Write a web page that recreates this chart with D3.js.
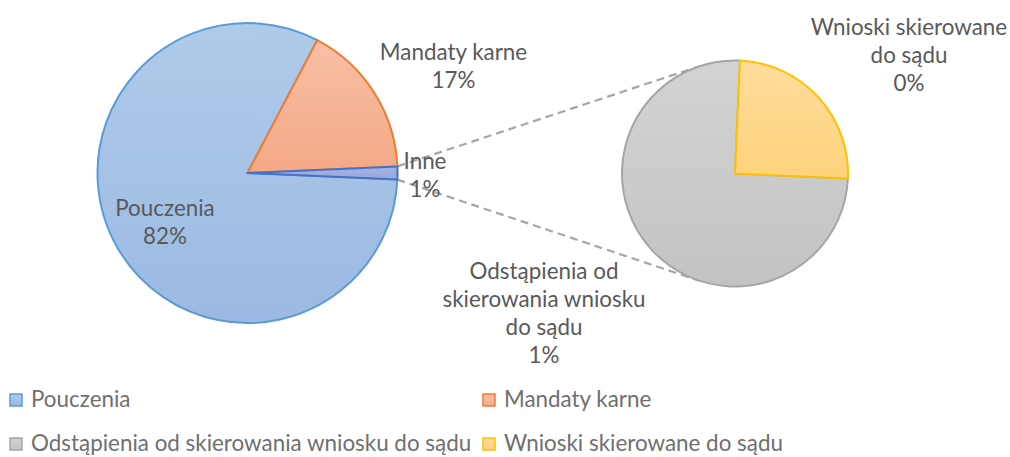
<!DOCTYPE html>
<html lang="pl">
<head>
<meta charset="UTF-8">
<title>Pie of pie</title>
<style>
  body { margin: 0; background: #fff; }
  text { font-family: Lato, "Open Sans", sans-serif; }
</style>
</head>
<body>
<div id="chart"></div>
<script src="https://d3js.org/d3.v7.min.js"></script>
<script>
const mainNames = ['Pouczenia', 'Mandaty karne', 'Inne']
const mainValues = [82.0, 16.6, 1.4]
const subNames = ['Odstąpienia od skierowania wniosku do sądu', 'Wnioski skierowane do sądu']
const subValues = [1.05, 0.35]
const mainLabelLines = [['Pouczenia'], ['Mandaty karne'], ['Inne']]
const subLabelLines = [['Odstąpienia od', 'skierowania wniosku', 'do sądu'], ['Wnioski skierowane', 'do sądu']]
const legendNames = ['Pouczenia', 'Mandaty karne', 'Odstąpienia od skierowania wniosku do sądu', 'Wnioski skierowane do sądu']

const width = 1010
const height = 457
const fontSize = 22.4
const lineH = 28

const mainC = [247.5, 173]
const mainR = 150
const subC = [735, 173.5]
const subR = 113

// stroke colour, gradient top, gradient bottom
const mainColors = [['#5b9bd5', '#b0cae9', '#9bb9e2'], ['#ed7d31', '#f7c0a6', '#f4a886'], ['#4472c4', '#a6b3e2', '#97a7dc']]
const subColors = [['#a5a5a5', '#d3d3d3', '#c3c3c3'], ['#ffc000', '#ffdc9c', '#fdd37b']]

// label anchors (offset from pie centre, first baseline)
const mainLabelPos = [[-82.5, 43], [206, -113], [177.5, -4]]
const subLabelPos = [[-191, 105.5], [174, -138.5]]

const svg = d3.select('#chart')
  .append('svg')
  .attr('width', width)
  .attr('height', height)

const defs = svg.append('defs')
function addGrad(id, c) {
  const g = defs.append('linearGradient').attr('id', id)
    .attr('x1', 0).attr('y1', 0).attr('x2', 0).attr('y2', 1)
  g.append('stop').attr('offset', '0%').attr('stop-color', c[1])
  g.append('stop').attr('offset', '100%').attr('stop-color', c[2])
}
mainColors.forEach((c, i) => addGrad('gm' + i, c))
subColors.forEach((c, i) => addGrad('gs' + i, c))

const half = mainValues[2] / d3.sum(mainValues) * Math.PI
const mainStart = Math.PI / 2 + half

const mainPie = d3.pie().sort(null).value(d => d)
  .startAngle(mainStart).endAngle(mainStart + 2 * Math.PI)
const subPie = d3.pie().sort(null).value(d => d)
  .startAngle(mainStart).endAngle(mainStart + 2 * Math.PI)

const mainArcs = mainPie(mainValues)
const subArcs = subPie(subValues)

// dashed connector lines (tangents from the "Inne" corners)
function pt(c, r, a) { return [c[0] + r * Math.sin(a), c[1] - r * Math.cos(a)] }
function tangent(p, c, r, upper) {
  const dx = p[0] - c[0], dy = p[1] - c[1]
  const d = Math.hypot(dx, dy)
  const base = Math.atan2(dy, dx)
  const al = Math.acos(r / d)
  const t1 = [c[0] + r * Math.cos(base + al), c[1] + r * Math.sin(base + al)]
  const t2 = [c[0] + r * Math.cos(base - al), c[1] + r * Math.sin(base - al)]
  return upper ? (t1[1] < t2[1] ? t1 : t2) : (t1[1] > t2[1] ? t1 : t2)
}
const inne = mainArcs[2]
const pTop = pt(mainC, mainR, inne.startAngle)
const pBot = pt(mainC, mainR, inne.endAngle)
;[[pTop, true], [pBot, false]].forEach(([p, up]) => {
  const t = tangent(p, subC, subR, up)
  svg.append('line')
    .attr('x1', p[0]).attr('y1', p[1]).attr('x2', t[0]).attr('y2', t[1])
    .attr('stroke', '#a6a6a6').attr('stroke-width', 2.2)
    .attr('stroke-dasharray', '8,5')
})

const arcMain = d3.arc().innerRadius(0).outerRadius(mainR)
const arcSub = d3.arc().innerRadius(0).outerRadius(subR)

svg.append('g')
  .attr('transform', `translate(${mainC[0]},${mainC[1]})`)
  .selectAll('path')
  .data(mainArcs)
  .join('path')
  .attr('d', arcMain)
  .attr('fill', (d, i) => `url(#gm${i})`)
  .attr('stroke', (d, i) => mainColors[i][0])
  .attr('stroke-width', 2)
  .attr('stroke-linejoin', 'round')

svg.append('g')
  .attr('transform', `translate(${subC[0]},${subC[1]})`)
  .selectAll('path')
  .data(subArcs)
  .join('path')
  .attr('d', arcSub)
  .attr('fill', (d, i) => `url(#gs${i})`)
  .attr('stroke', (d, i) => subColors[i][0])
  .attr('stroke-width', 2)
  .attr('stroke-linejoin', 'round')

const pct = v => Math.round(v) + '%'

function drawLabel(c, off, lines) {
  const t = svg.append('text')
    .attr('text-anchor', 'middle')
    .attr('font-size', fontSize)
    .attr('fill', '#595959')
  lines.forEach((s, i) => {
    t.append('tspan').attr('x', c[0] + off[0]).attr('y', c[1] + off[1] + i * lineH).text(s)
  })
}
mainValues.forEach((v, i) => drawLabel(mainC, mainLabelPos[i], mainLabelLines[i].concat([pct(v)])))
subValues.forEach((v, i) => drawLabel(subC, subLabelPos[i], subLabelLines[i].concat([pct(v)])))

// legend
const legendColors = [mainColors[0], mainColors[1], subColors[0], subColors[1]]
const legCols = [9, 482]
const legRows = [407, 451]
const leg = svg.append('g')
legendNames.forEach((name, i) => {
  const x = legCols[i % 2], y = legRows[Math.floor(i / 2)]
  const gid = 'gl' + i
  addGrad(gid, legendColors[i])
  leg.append('rect')
    .attr('x', x + 1).attr('y', y - 13).attr('width', 12).attr('height', 12)
    .attr('fill', `url(#${gid})`)
    .attr('stroke', legendColors[i][0]).attr('stroke-width', 1.5)
  leg.append('text')
    .attr('x', x + 22).attr('y', y)
    .attr('font-size', fontSize)
    .attr('fill', '#6f6f6f')
    .text(name)
})
</script>
</body>
</html>
